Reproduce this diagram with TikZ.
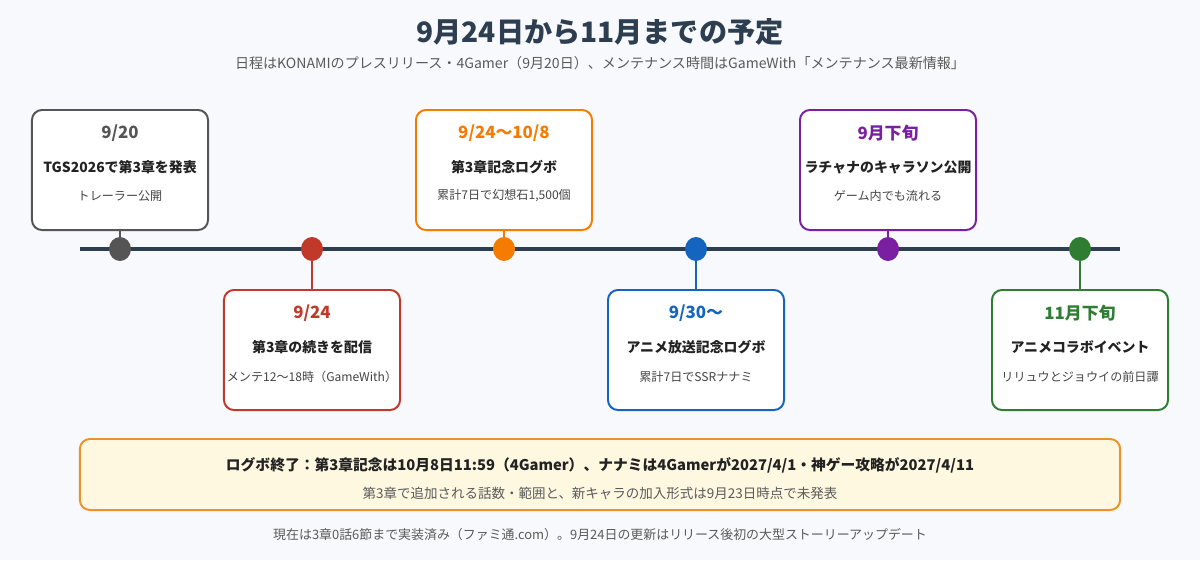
\documentclass[tikz,border=0pt]{standalone}
\usepackage{fontspec}
\setmainfont{Noto Sans CJK JP}
\usepackage{tikz}
\usetikzlibrary{shapes.geometric, positioning}
\definecolor{mybg}{RGB}{247,249,252}
\definecolor{mydark}{RGB}{44,62,80}
\definecolor{mygray}{RGB}{85,85,85}
\definecolor{myred}{RGB}{192,57,43}
\definecolor{myorange}{RGB}{245,124,0}
\definecolor{myblue}{RGB}{21,101,192}
\definecolor{mypurple}{RGB}{123,31,162}
\definecolor{mygreen}{RGB}{46,125,50}
\definecolor{notefill}{RGB}{255,248,225}
\definecolor{noteline}{RGB}{236,146,42}
\definecolor{mytext}{RGB}{34,34,34}
\definecolor{mydesc}{RGB}{68,68,68}
\definecolor{mysub}{RGB}{90,90,90}
\tikzset{
  evbox/.style={rectangle, draw=#1, fill=white,
    minimum width=4.4cm, minimum height=3cm,
    rounded corners=0.25cm, line width=1.4pt},
  evdot/.style={ellipse, fill=#1, minimum width=0.55cm,
    minimum height=0.6cm, inner sep=0pt},
  stem/.style={line width=1.4pt, draw=#1},
  evdate/.style={font=\fontsize{12}{14}\selectfont\bfseries, text=#1},
  evtitle/.style={font=\fontsize{9.9}{12}\selectfont\bfseries, text=mytext},
  evdesc/.style={font=\fontsize{8.6}{10}\selectfont, text=mydesc}
}
\begin{document}
\begin{tikzpicture}[x=0.025cm, y=-0.025cm]
  \fill[mybg] (0,0) rectangle (1200,560);
  \useasboundingbox (0,0) rectangle (1200,560);
  % heading
  \node[font=\fontsize{20}{24}\selectfont\bfseries, text=mydark] (title) at (600,32) {9月24日から11月までの予定};
  \node[font=\fontsize{10}{12}\selectfont, text=mysub] (subtitle) at (600,63)
    {日程はKONAMIのプレスリリース・4Gamer（9月20日）、メンテナンス時間はGameWith「メンテナンス最新情報」};
  % timeline
  \coordinate (tl0) at (80,249);
  \coordinate (tl1) at (1120,249);
  \draw[line width=3.5pt, mydark] (tl0) -- (tl1);
  % 9/20
  \node[evbox=mygray] (b1) at (120,170) {};
  \node[evdot=mygray] (d1) at (120,249) {};
  \draw[stem=mygray] (b1) -- (d1);
  \node[evdate=mygray] (b1d) at ([yshift=-0.6cm]b1.north) {9/20};
  \node[evtitle] (b1t) at ([yshift=-1.45cm]b1.north) {TGS2026で第3章を発表};
  \node[evdesc] (b1x) at ([yshift=-2.175cm]b1.north) {トレーラー公開};
  % 9/24
  \node[evbox=myred] (b2) at (312,350) {};
  \node[evdot=myred] (d2) at (312,249) {};
  \draw[stem=myred] (d2) -- (b2);
  \node[evdate=myred] (b2d) at ([yshift=-0.6cm]b2.north) {9/24};
  \node[evtitle] (b2t) at ([yshift=-1.45cm]b2.north) {第3章の続きを配信};
  \node[evdesc] (b2x) at ([yshift=-2.2cm]b2.north) {メンテ12〜18時（GameWith）};
  % 9/24-10/8
  \node[evbox=myorange] (b3) at (504,170) {};
  \node[evdot=myorange] (d3) at (504,249) {};
  \draw[stem=myorange] (b3) -- (d3);
  \node[evdate=myorange] (b3d) at ([yshift=-0.6cm]b3.north) {9/24〜10/8};
  \node[evtitle] (b3t) at ([yshift=-1.45cm]b3.north) {第3章記念ログボ};
  \node[evdesc] (b3x) at ([yshift=-2.175cm]b3.north) {累計7日で幻想石1,500個};
  % 9/30-
  \node[evbox=myblue] (b4) at (696,350) {};
  \node[evdot=myblue] (d4) at (696,249) {};
  \draw[stem=myblue] (d4) -- (b4);
  \node[evdate=myblue] (b4d) at ([yshift=-0.6cm]b4.north) {9/30〜};
  \node[evtitle] (b4t) at ([yshift=-1.45cm]b4.north) {アニメ放送記念ログボ};
  \node[evdesc] (b4x) at ([yshift=-2.2cm]b4.north) {累計7日でSSRナナミ};
  % late Sept
  \node[evbox=mypurple] (b5) at (888,170) {};
  \node[evdot=mypurple] (d5) at (888,249) {};
  \draw[stem=mypurple] (b5) -- (d5);
  \node[evdate=mypurple] (b5d) at ([yshift=-0.6cm]b5.north) {9月下旬};
  \node[evtitle] (b5t) at ([yshift=-1.45cm]b5.north) {ラチャナのキャラソン公開};
  \node[evdesc] (b5x) at ([yshift=-2.175cm]b5.north) {ゲーム内でも流れる};
  % late Nov
  \node[evbox=mygreen] (b6) at (1080,350) {};
  \node[evdot=mygreen] (d6) at (1080,249) {};
  \draw[stem=mygreen] (d6) -- (b6);
  \node[evdate=mygreen] (b6d) at ([yshift=-0.6cm]b6.north) {11月下旬};
  \node[evtitle] (b6t) at ([yshift=-1.45cm]b6.north) {アニメコラボイベント};
  \node[evdesc] (b6x) at ([yshift=-2.2cm]b6.north) {リリュウとジョウイの前日譚};
  % note
  \node[rectangle, draw=noteline, fill=notefill, line width=1.4pt, rounded corners=0.25cm,
    minimum width=26cm, minimum height=1.775cm] (note) at (600,474.5) {};
  \node[font=\fontsize{10.5}{12}\selectfont\bfseries, text=mytext] (note1) at (600,465)
    {ログボ終了：第3章記念は10月8日11:59（4Gamer）、ナナミは4Gamerが2027/4/1・神ゲー攻略が2027/4/11};
  \node[font=\fontsize{9.6}{12}\selectfont, text=mysub] (note2) at (600,493)
    {第3章で追加される話数・範囲と、新キャラの加入形式は9月23日時点で未発表};
  % footer
  \node[font=\fontsize{9.2}{11}\selectfont, text=mysub] (footer) at (600,535)
    {現在は3章0話6節まで実装済み（ファミ通.com）。9月24日の更新はリリース後初の大型ストーリーアップデート};
\end{tikzpicture}
\end{document}
